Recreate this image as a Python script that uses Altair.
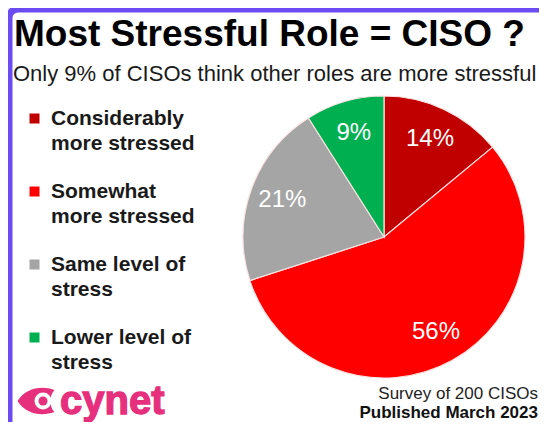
import altair as alt
import pandas as pd

# ---- data ----
categories = ["Considerably more stressed", "Somewhat more stressed",
              "Same level of stress", "Lower level of stress"]
label_line1 = ["Considerably", "Somewhat", "Same level of", "Lower level of"]
label_line2 = ["more stressed", "more stressed", "stress", "stress"]
values = [14, 56, 21, 9]
colors = ["#c00000", "#ff0000", "#a5a5a5", "#00b050"]

title_text = "Most Stressful Role = CISO ?"
subtitle_text = "Only 9% of CISOs think other roles are more stressful"
note_line1 = "Survey of 200 CISOs"
note_line2 = "Published March 2023"
brand = "cynet"

FONT = "Liberation Sans"
PINK = "#e6307e"
PURPLE = "#6a4cf2"

df = pd.DataFrame({
    "category": categories,
    "value": values,
    "order": list(range(len(categories))),
    "pct": [f"{v}%" for v in values],
})

# multi-line legend labels
expr = "''"
for c, a, b in reversed(list(zip(categories, label_line1, label_line2))):
    expr = f"datum.label == '{c}' ? ['{a}', '{b}'] : {expr}"

CX, CY, R = 376, 229, 141

legend = alt.Legend(
    orient="none", legendX=16, legendY=100, title=None, padding=0,
    symbolType="square", symbolSize=100, symbolStrokeWidth=0, symbolOpacity=1,
    labelFont=FONT, labelFontWeight="bold", labelFontSize=21,
    labelColor="#1a1a1a", labelExpr=expr, labelLimit=0, labelOffset=6,
    labelBaseline="middle", rowPadding=26,
)

base = alt.Chart(df)

pie = base.mark_arc(outerRadius=R, stroke="#fbe3e3", strokeWidth=1.2).encode(
    theta=alt.Theta("value:Q", stack=True),
    color=alt.Color("category:N", scale=alt.Scale(domain=categories, range=colors),
                    legend=legend, sort=categories),
    order=alt.Order("order:Q"),
    x=alt.value(CX), y=alt.value(CY),
)

pie_labels = base.mark_text(radius=108, font=FONT, fontSize=24, color="white").encode(
    theta=alt.Theta("value:Q", stack=True),
    order=alt.Order("order:Q"),
    text="pct:N",
    x=alt.value(CX), y=alt.value(CY),
)

def one_text(txt, **kw):
    return alt.Chart(alt.Data(values=[{"t": txt}])).mark_text(font=FONT, **kw).encode(
        text="t:N")

border = alt.Chart(alt.Data(values=[{}])).mark_rect(
    fill=None, stroke=PURPLE, strokeWidth=7, cornerRadius=9,
).encode(x=alt.value(1), y=alt.value(1), x2=alt.value(600), y2=alt.value(500))

title = one_text(title_text, x=6, y=38, align="left", baseline="alphabetic",
                 fontSize=37, fontWeight="bold", color="#000000")
subtitle = one_text(subtitle_text, x=5, y=73, align="left", baseline="alphabetic",
                    fontSize=22, color="#1a1a1a")
note1 = one_text(note_line1, x=530, y=391, align="right", baseline="alphabetic",
                 fontSize=17, color="#222222")
note2 = one_text(note_line2, x=530, y=410, align="right", baseline="alphabetic",
                 fontSize=17, fontWeight="bold", color="#111111")
brand_text = one_text(brand, x=52, y=406, align="left", baseline="alphabetic",
                      fontSize=40, fontWeight="bold", color=PINK,
                      stroke=PINK, strokeWidth=1.3)

eye_path = ("M-1,0 C-0.55,-0.72 0.3,-0.85 1,-0.6 C0.7,-0.25 0.7,0.25 1,0.6 "
            "C0.3,0.85 -0.55,0.72 -1,0 Z")
logo_shape = alt.Chart(alt.Data(values=[{}])).mark_point(
    shape=eye_path, filled=True, size=37 * 37, color=PINK, opacity=1,
).encode(x=alt.value(28), y=alt.value(393))
logo_ring = alt.Chart(alt.Data(values=[{}])).mark_point(
    shape="circle", filled=True, size=17 * 17, color="white", opacity=1,
).encode(x=alt.value(35), y=alt.value(393))
logo_dot = alt.Chart(alt.Data(values=[{}])).mark_point(
    shape="circle", filled=True, size=9 * 9, color=PINK, opacity=1,
).encode(x=alt.value(35), y=alt.value(393))

chart = alt.layer(
    pie, pie_labels, title, subtitle, note1, note2,
    logo_shape, logo_ring, logo_dot, brand_text, border,
).properties(
    width=531, height=414, padding=0,
    autosize=alt.AutoSizeParams(type="none"),
    background="white",
).configure_view(stroke=None).configure(
    style={"guide-label": {"lineHeight": 25}}
)

chart.save("out.html", embed_options={"renderer": "svg", "actions": False})
